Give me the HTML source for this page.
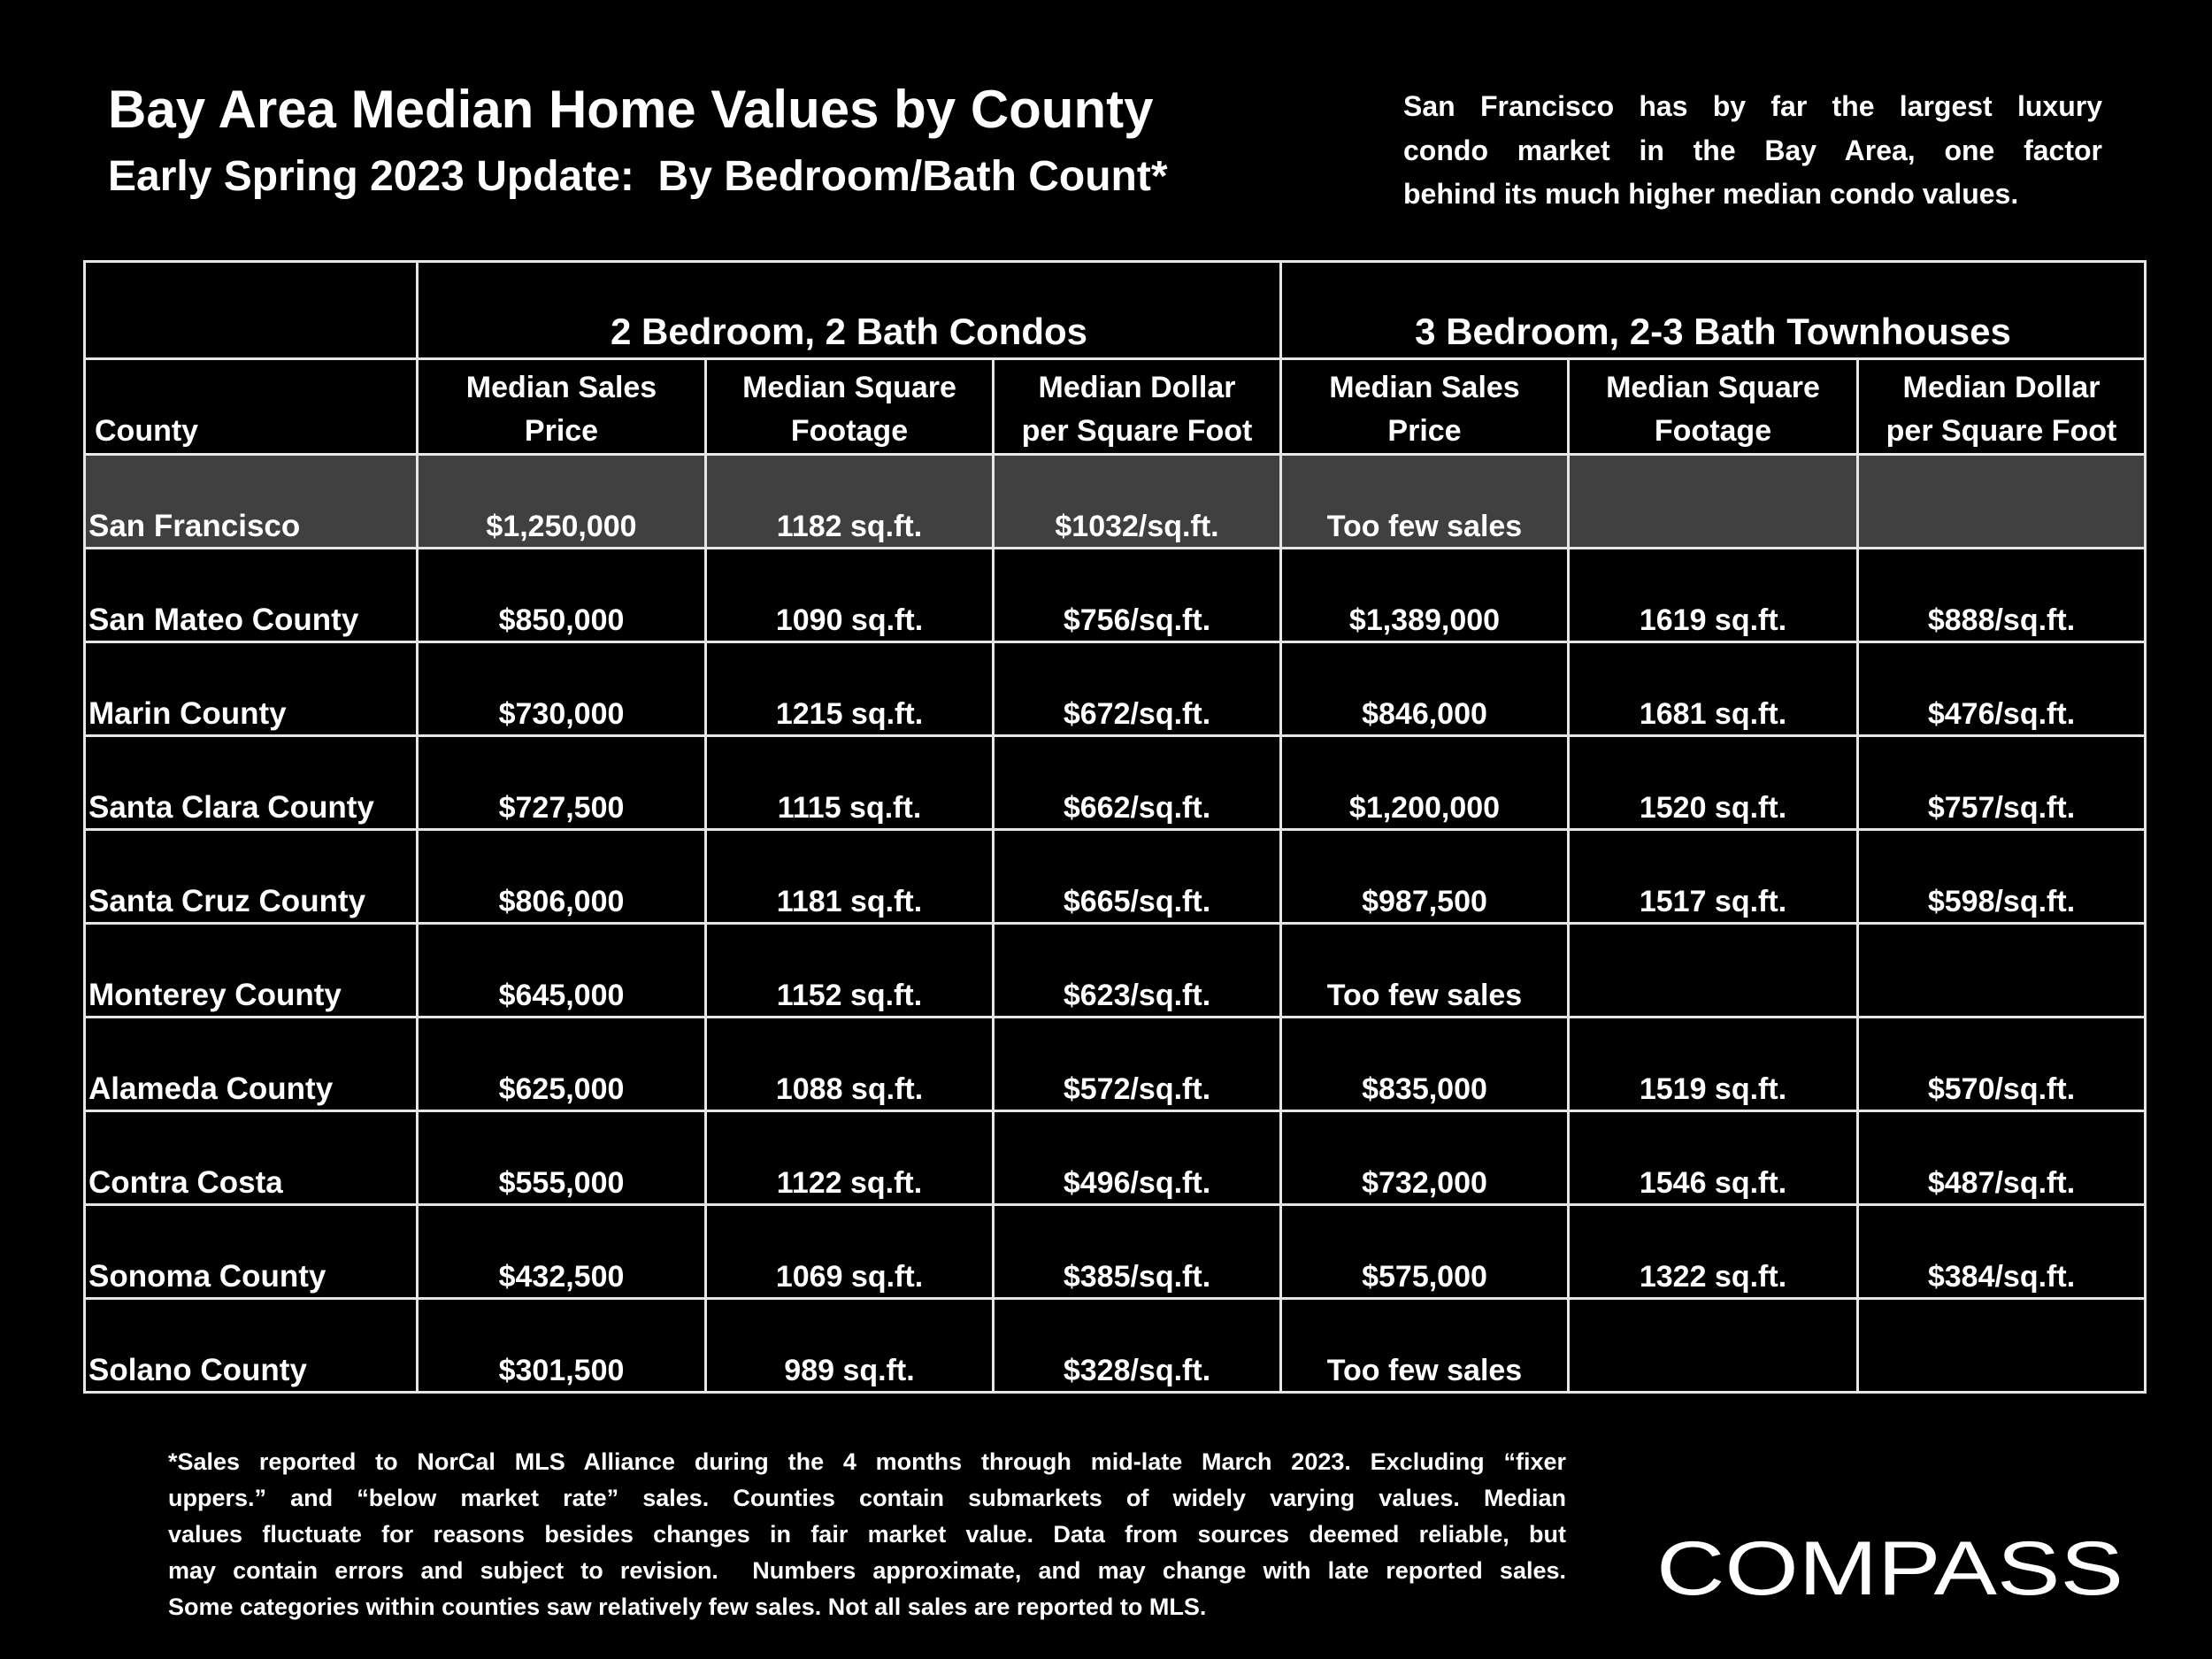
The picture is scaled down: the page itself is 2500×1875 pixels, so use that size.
<!DOCTYPE html>
<html><head><meta charset="utf-8"><style>
html,body{margin:0;padding:0;background:#000;}
body{width:2500px;height:1875px;position:relative;overflow:hidden;font-family:"Liberation Sans",sans-serif;color:#fff;font-weight:bold;}
.t1{position:absolute;left:122px;top:89px;font-size:60px;white-space:nowrap;}
.t2{position:absolute;left:122px;top:172px;font-size:48px;white-space:nowrap;}
.note{position:absolute;left:1586px;top:96px;width:790px;font-size:32px;line-height:49.5px;}
.j{text-align:justify;text-align-last:justify;white-space:nowrap;}
.foot{position:absolute;left:190px;top:1632px;width:1580px;font-size:27px;line-height:41px;}
table{position:absolute;left:94px;top:294px;border-collapse:collapse;table-layout:fixed;}
td{border:3px solid #e6e6e6;padding:0 0 1px 0;vertical-align:bottom;text-align:center;font-size:34px;line-height:44px;white-space:nowrap;overflow:hidden;}
td.c{text-align:left;padding-left:3px;font-size:35px;}
tr.d td{height:102px;}
tr.g td{background:#404040;}
.h1 td{height:100px;font-size:42px;padding-bottom:7px;}
.h2 td{height:105px;line-height:49px;font-size:34px;padding-bottom:0px;}
</style></head><body>
<div class="t1">Bay Area Median Home Values by County</div>
<div class="t2">Early Spring 2023 Update:&nbsp; By Bedroom/Bath Count*</div>
<div class="note">
<div class="j">San Francisco has by far the largest luxury</div>
<div class="j">condo market in the Bay Area, one factor</div>
<div style="white-space:nowrap">behind its much higher median condo values.</div>
</div>
<table>
<colgroup><col style="width:376px"><col style="width:326px"><col style="width:325px"><col style="width:325px"><col style="width:325px"><col style="width:327px"><col style="width:325px"></colgroup>
<tr class="h1"><td></td><td colspan="3">2 Bedroom, 2 Bath Condos</td><td colspan="3">3 Bedroom, 2-3 Bath Townhouses</td></tr>
<tr class="h2"><td class="c" style="padding-left:10px">County</td><td>Median Sales<br>Price</td><td>Median Square<br>Footage</td><td>Median Dollar<br>per Square Foot</td><td>Median Sales<br>Price</td><td>Median Square<br>Footage</td><td>Median Dollar<br>per Square Foot</td></tr>
<tr class="d g"><td class="c">San Francisco</td><td>$1,250,000</td><td>1182 sq.ft.</td><td>$1032/sq.ft.</td><td>Too few sales</td><td></td><td></td></tr>
<tr class="d"><td class="c">San Mateo County</td><td>$850,000</td><td>1090 sq.ft.</td><td>$756/sq.ft.</td><td>$1,389,000</td><td>1619 sq.ft.</td><td>$888/sq.ft.</td></tr>
<tr class="d"><td class="c">Marin County</td><td>$730,000</td><td>1215 sq.ft.</td><td>$672/sq.ft.</td><td>$846,000</td><td>1681 sq.ft.</td><td>$476/sq.ft.</td></tr>
<tr class="d"><td class="c">Santa Clara County</td><td>$727,500</td><td>1115 sq.ft.</td><td>$662/sq.ft.</td><td>$1,200,000</td><td>1520 sq.ft.</td><td>$757/sq.ft.</td></tr>
<tr class="d"><td class="c">Santa Cruz County</td><td>$806,000</td><td>1181 sq.ft.</td><td>$665/sq.ft.</td><td>$987,500</td><td>1517 sq.ft.</td><td>$598/sq.ft.</td></tr>
<tr class="d"><td class="c">Monterey County</td><td>$645,000</td><td>1152 sq.ft.</td><td>$623/sq.ft.</td><td>Too few sales</td><td></td><td></td></tr>
<tr class="d"><td class="c">Alameda County</td><td>$625,000</td><td>1088 sq.ft.</td><td>$572/sq.ft.</td><td>$835,000</td><td>1519 sq.ft.</td><td>$570/sq.ft.</td></tr>
<tr class="d"><td class="c">Contra Costa</td><td>$555,000</td><td>1122 sq.ft.</td><td>$496/sq.ft.</td><td>$732,000</td><td>1546 sq.ft.</td><td>$487/sq.ft.</td></tr>
<tr class="d"><td class="c">Sonoma County</td><td>$432,500</td><td>1069 sq.ft.</td><td>$385/sq.ft.</td><td>$575,000</td><td>1322 sq.ft.</td><td>$384/sq.ft.</td></tr>
<tr class="d"><td class="c">Solano County</td><td>$301,500</td><td>989 sq.ft.</td><td>$328/sq.ft.</td><td>Too few sales</td><td></td><td></td></tr>
</table>
<div class="foot">
<div class="j">*Sales reported to NorCal MLS Alliance during the 4 months through mid-late March 2023. Excluding “fixer</div>
<div class="j">uppers.” and “below market rate” sales. Counties contain submarkets of widely varying values. Median</div>
<div class="j">values fluctuate for reasons besides changes in fair market value. Data from sources deemed reliable, but</div>
<div class="j">may contain errors and subject to revision.&nbsp; Numbers approximate, and may change with late reported sales.</div>
<div style="white-space:nowrap">Some categories within counties saw relatively few sales. Not all sales are reported to MLS.</div>
</div>
<svg style="position:absolute;left:1860px;top:1720px" width="560" height="100">
<text x="12" y="82" font-family="Liberation Sans, sans-serif" font-size="86" font-weight="normal" fill="#fff" textLength="528" lengthAdjust="spacingAndGlyphs">COMPASS</text>
</svg>
</body></html>
